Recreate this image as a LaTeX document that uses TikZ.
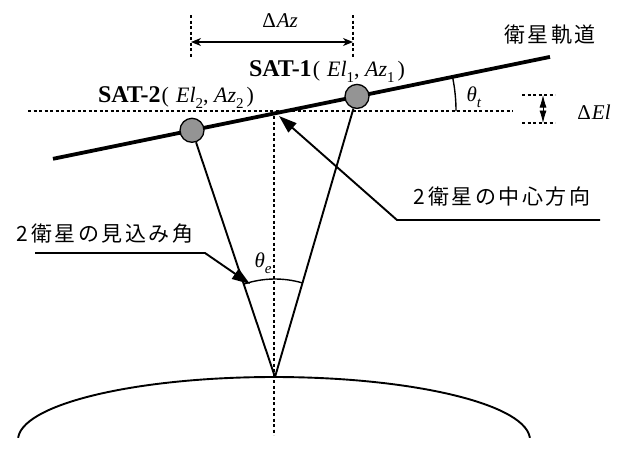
\documentclass[tikz,border=0pt]{standalone}
\usepackage{fontspec}
\setmainfont{Liberation Serif}
\newfontfamily\jp[LetterSpace=12]{Noto Sans CJK JP}
\usetikzlibrary{arrows.meta,calc}
\newcommand{\sbx}[1]{\raisebox{-0.3em}{\fontsize{15}{15}\selectfont #1}}
\begin{document}
\begin{tikzpicture}[x=1pt,y=-1pt,
  orbit/.style={line width=3.8pt},
  sline/.style={line width=1.9pt},
  dotline/.style={line width=1.8pt, dash pattern=on 3pt off 2.5pt},
  sat/.style={circle, draw, line width=1.3pt, fill=black!42, minimum size=24pt, inner sep=0pt},
  jplabel/.style={font=\jp\fontsize{21}{24}\selectfont, inner sep=0pt},
  mlabel/.style={font=\fontsize{21}{24}\selectfont, inner sep=0pt},
  satlabel/.style={inner sep=0pt, anchor=base},
  bigtip/.style={-{Triangle[length=18pt,width=12pt]}},
  dtip/.style={{Stealth[length=10pt,width=8pt,inset=3pt]}-{Stealth[length=10pt,width=8pt,inset=3pt]}},
]
\useasboundingbox (0,0) rectangle (620,451);
% key points
\coordinate (O) at (286,111);
\coordinate (OL) at (53,158.8);
\coordinate (OR) at (550,56.9);
\coordinate (V) at (275,377);
% horizontal and vertical reference lines
\coordinate (HL) at (28,111);
\coordinate (HR) at (513,111);
\draw[dotline] (HL) -- (HR);
\coordinate (VT) at (274,116);
\coordinate (VB) at (274,435);
\draw[dotline] (VT) -- (VB);
% earth
\begin{scope}
  \clip (0,0) rectangle (620,437);
  \draw[line width=1.9pt] (274,440) ellipse [x radius=256pt, y radius=63pt];
\end{scope}
% orbit and satellites
\draw[orbit] (OL) -- (OR);
\node[sat] (S1) at (357,96.4) {};
\node[sat] (S2) at (192,130.3) {};
\draw[sline] (S2) -- (V);
\draw[sline] (S1) -- (V);
% angles
\draw[line width=1.4pt] ($(V)+(73.7:98pt)$) arc[start angle=73.7, end angle=108.6, radius=98pt];
\draw[line width=1.4pt] ($(O)+(0:170pt)$) arc[start angle=0, end angle=11.6, radius=170pt];
\node[mlabel] (te) at (263,263) {\textit{θ}\sbx{\textit{e}}};
\node[mlabel] (tt) at (474,97) {\textit{θ}\sbx{\textit{t}}};
% Delta Az
\coordinate (A1t) at (191,15); \coordinate (A1b) at (191,57);
\coordinate (A2t) at (353,15); \coordinate (A2b) at (353,57);
\draw[dotline, line width=1.4pt] (A1t) -- (A1b);
\draw[dotline, line width=1.4pt] (A2t) -- (A2b);
\coordinate (AzL) at (191,42); \coordinate (AzR) at (353,42);
\draw[line width=1.3pt, dtip] (AzL) -- (AzR);
\node[mlabel] (dAz) at (280,21) {Δ\kern1pt\textit{Az}};
% Delta El
\coordinate (E1l) at (522,95); \coordinate (E1r) at (555,95);
\coordinate (E2l) at (522,123); \coordinate (E2r) at (555,123);
\draw[dotline, line width=1.4pt] (E1l) -- (E1r);
\draw[dotline, line width=1.4pt] (E2l) -- (E2r);
\coordinate (Et) at (543,95); \coordinate (Eb) at (543,123);
\draw[line width=0.8pt, {Latex[length=12.5pt,width=7pt]}-{Latex[length=12.5pt,width=7pt]}] (Et) -- (Eb);
\node[mlabel] (dEl) at (594,112) {Δ\kern1pt\textit{El}};
% satellite labels
\node[satlabel] (L1) at (327,76) {\fontsize{24}{26}\selectfont\textbf{SAT-1}\fontsize{22}{24}\selectfont\kern1pt(\kern7pt\textit{El}\sbx{1}, \textit{Az}\sbx{1}\kern3pt)};
\node[satlabel] (L2) at (176,102) {\fontsize{24}{26}\selectfont\textbf{SAT-2}\fontsize{22}{24}\selectfont\kern1pt(\kern7pt\textit{El}\sbx{2}, \textit{Az}\sbx{2}\kern3pt)};
% Japanese labels
\node[jplabel] (orb) at (550,35) {衛星軌道};
\node[jplabel] (mik) at (105,234) {2衛星の見込み角};
\node[jplabel] (chu) at (502,197) {2衛星の中心方向};
% leaders
\coordinate (m0) at (35,253); \coordinate (m1) at (205,253); \coordinate (m2) at (250,284);
\draw[sline, bigtip] (m0) -- (m1) -- (m2);
\coordinate (c0) at (600,220); \coordinate (c1) at (397,220); \coordinate (c2) at (279,116);
\draw[sline, bigtip] (c0) -- (c1) -- (c2);
\end{tikzpicture}
\end{document}
